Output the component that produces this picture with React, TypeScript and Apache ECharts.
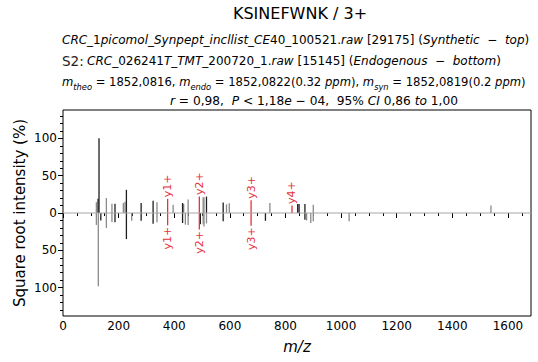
import React, { useEffect, useRef } from "react";
import * as echarts from "echarts";

const FONT = "DejaVu Sans";

// ---- axis ticks ----
const xMax = 1683;
const yMin = -138;
const yMax = 138;
const xTicks = [0, 200, 400, 600, 800, 1000, 1200, 1400, 1600];
const xMinorTicks = [0, 50, 100, 150, 200, 250, 300, 350, 400, 450, 500, 550, 600, 650, 700, 750, 800, 850, 900, 950, 1000, 1050, 1100, 1150, 1200, 1250, 1300, 1350, 1400, 1450, 1500, 1550, 1600, 1650];
const yTicks = [-100, -50, 0, 50, 100];
const yMinorTicks = [-130, -120, -110, -100, -90, -80, -70, -60, -50, -40, -30, -20, -10, 0, 10, 20, 30, 40, 50, 60, 70, 80, 90, 100, 110, 120, 130];

// ---- synthetic (top) peaks ----
const synDarkMz = [126, 129.5, 187, 228, 281, 324, 430, 516, 576, 844, 849, 870];
const synDarkInt = [19, 100, 12.5, 31, 13.4, 16.4, 13.4, 22, 14, 12, 12, 12];
const synLightMz = [120, 156, 176, 217, 223, 338, 396, 434, 450, 504, 507, 588, 598, 744, 900, 1539];
const synLightInt = [14.5, 20, 12.5, 13.4, 15, 14.5, 11, 12, 18, 21, 21, 11.6, 13, 13.4, 11, 10];

// ---- endogenous (bottom) peaks ----
const endoDarkMz = [136, 187, 228, 281, 324, 430, 494, 576, 728, 870];
const endoDarkInt = [-10, -12.5, -35, -10.5, -14.5, -13.4, -15, -11, -10.5, -9];
const endoLightMz = [120, 127, 156, 176, 247, 338, 440, 450, 504, 507, 516, 876, 891, 900, 1029];
const endoLightInt = [-16, -98, -20, -12, -10.5, -12.5, -15.6, -16, -15, -18, -14, -10, -13.4, -11, -11];

// ---- annotated fragment ions ----
const ionNames = ["y1+", "y2+", "y3+", "y4+"];
const ionMz = [376.3, 490.3, 676.4, 823.5];
const ionSynInt = [19, 22, 17, 10];
const ionEndoInt = [-16.5, -22, -17, 0];

// ---- texts ----
const titleText = "KSINEFWNK / 3+";
const line1 = "{i|CRC_}{n|1}{i|picomol_Synpept_incllist_CE}{n|40_100521.}{i|raw}{n| [29175] (}{i|Synthetic  −  top}{n|)}";
const line2 = "{s|S2:} {i|CRC_}{n|026241}{i|T_TMT_}{n|200720_1.}{i|raw}{n| [15145] (}{i|Endogenous  −  bottom}{n|)}";
const line3 = "{i|m}{sub|theo}{n| = 1852,0816, }{i|m}{sub|endo}{n| = 1852,0822(0.32 }{i|ppm}{n|), }{i|m}{sub|syn}{n| = 1852,0819(0.2 }{i|ppm}{n|)}";
const line4 = "{i|r}{n| = 0,98,  }{i|P}{n| < 1,18}{i|e}{n| − 04,  95% }{i|CI}{n| 0,86 }{i|to}{n| 1,00}";

const DARK = "#1e1e1e";
const LIGHT = "#8a8a8a";
const RED = "#e5323b";

function makeRich(size: number) {
  return {
    i: { fontFamily: FONT, fontSize: size, fontStyle: "italic", fill: "#000", lineHeight: 17 },
    n: { fontFamily: FONT, fontSize: size, fill: "#000", lineHeight: 17 },
    s: { fontFamily: FONT, fontSize: 13.5, fill: "#222", lineHeight: 17 },
    sub: { fontFamily: FONT, fontSize: 8.3, fontStyle: "italic", fill: "#000", lineHeight: 8, verticalAlign: "bottom" },
  };
}
const rich = makeRich(12);
const rich3 = makeRich(11.6);
const rich4 = makeRich(12.2);

function peakSeries(mz: number[], ints: number[], color: string) {
  return {
    type: "custom",
    xAxisIndex: 0,
    yAxisIndex: 0,
    silent: true,
    data: mz.map((m, i) => [m, ints[i]]),
    encode: { x: 0, y: 1 },
    renderItem: (params: any, api: any) => {
      const x = api.value(0);
      const y = api.value(1);
      const p0 = api.coord([x, 0]);
      const p1 = api.coord([x, y]);
      return {
        type: "line",
        shape: { x1: p0[0], y1: p0[1], x2: p1[0], y2: p1[1] },
        style: { stroke: color, lineWidth: 1.3 },
      };
    },
  };
}

export default function App() {
  const ref = useRef<HTMLDivElement>(null);
  useEffect(() => {
    if (!ref.current) return;
    const chart = echarts.init(ref.current, undefined, { renderer: "svg" });
    const option: any = {
      animation: false,
      grid: {
        left: 63,
        top: 110,
        right: 7,
        bottom: 46,
        show: true,
        borderColor: "#000",
        borderWidth: 1,
        backgroundColor: "transparent",
      },
      xAxis: [
        {
          type: "value",
          gridIndex: 0,
          min: 0,
          max: xMax,
          position: "bottom",
          axisLine: { show: false },
          splitLine: { show: false },
          axisTick: { show: true, customValues: xTicks, length: 5, lineStyle: { color: "#000" } },
          axisLabel: {
            customValues: xTicks,
            fontSize: 12,
            fontFamily: FONT,
            color: "#000",
            margin: 4,
            formatter: (v: number) => String(v),
          },
        },
        {
          type: "value",
          gridIndex: 0,
          min: 0,
          max: xMax,
          position: "bottom",
          offset: 0,
          axisLine: { show: false },
          splitLine: { show: false },
          axisTick: { show: true, customValues: xMinorTicks, length: 3, lineStyle: { color: "#000" } },
          axisLabel: { show: false },
        },
      ],
      yAxis: [
        {
          type: "value",
          gridIndex: 0,
          min: yMin,
          max: yMax,
          position: "left",
          axisLine: { show: false },
          splitLine: { show: false },
          axisTick: { show: true, customValues: yTicks, length: 5, lineStyle: { color: "#000" } },
          axisLabel: {
            customValues: yTicks,
            fontSize: 12,
            fontFamily: FONT,
            color: "#000",
            margin: 6,
            formatter: (v: number) => String(Math.abs(v)),
          },
        },
        {
          type: "value",
          gridIndex: 0,
          min: yMin,
          max: yMax,
          position: "left",
          offset: 0,
          axisLine: { show: false },
          splitLine: { show: false },
          axisTick: { show: true, customValues: yMinorTicks, length: 3, lineStyle: { color: "#000" } },
          axisLabel: { show: false },
        },
      ],
      series: [
        {
          type: "line",
          xAxisIndex: 0,
          yAxisIndex: 0,
          data: [[0, 0], [xMax, 0]],
          symbol: "none",
          silent: true,
          lineStyle: { color: "#a6a6a6", width: 1 },
        },
        peakSeries(synLightMz, synLightInt, LIGHT),
        peakSeries(endoLightMz, endoLightInt, LIGHT),
        peakSeries(synDarkMz, synDarkInt, DARK),
        peakSeries(endoDarkMz, endoDarkInt, DARK),
        {
          type: "custom",
          xAxisIndex: 0,
          yAxisIndex: 0,
          silent: true,
          data: ionMz.map((m, i) => [m, ionSynInt[i], ionEndoInt[i], i]),
          encode: { x: 0, y: 1 },
          renderItem: (params: any, api: any) => {
            const x = api.value(0);
            const top = api.value(1);
            const bot = api.value(2);
            const name = ionNames[api.value(3)];
            const p0 = api.coord([x, 0]);
            const children: any[] = [];
            if (top) {
              const p1 = api.coord([x, top]);
              children.push({
                type: "line",
                shape: { x1: p0[0], y1: p0[1], x2: p1[0], y2: p1[1] },
                style: { stroke: RED, lineWidth: 1.3 },
              });
              children.push({
                type: "text",
                x: p1[0],
                y: p1[1] - 1.5,
                rotation: Math.PI / 2,
                style: { text: name, fill: RED, fontSize: 11, fontFamily: FONT, align: "left", verticalAlign: "middle" },
              });
            }
            if (bot) {
              const p2 = api.coord([x, bot]);
              children.push({
                type: "line",
                shape: { x1: p0[0], y1: p0[1], x2: p2[0], y2: p2[1] },
                style: { stroke: RED, lineWidth: 1.3 },
              });
              children.push({
                type: "text",
                x: p2[0],
                y: p2[1] + 1.5,
                rotation: Math.PI / 2,
                style: { text: name, fill: RED, fontSize: 11, fontFamily: FONT, align: "right", verticalAlign: "middle" },
              });
            }
            return { type: "group", children };
          },
        },
      ],
      graphic: [
        {
          type: "text",
          x: 300,
          y: 13,
          style: { text: titleText, fontSize: 16, fontFamily: FONT, fill: "#000", align: "center", verticalAlign: "middle" },
        },
        { type: "text", x: 62, y: 40, style: { text: line1, rich, align: "left", verticalAlign: "middle" } },
        { type: "text", x: 62, y: 61, style: { text: line2, rich, align: "left", verticalAlign: "middle" } },
        { type: "text", x: 62, y: 82, style: { text: line3, rich: rich3, align: "left", verticalAlign: "middle" } },
        { type: "text", x: 170, y: 101, style: { text: line4, rich: rich4, align: "left", verticalAlign: "middle" } },
        {
          type: "text",
          x: 20,
          y: 213,
          rotation: Math.PI / 2,
          style: { text: "Square root intensity (%)", fontSize: 15, fontFamily: FONT, fill: "#000", align: "center", verticalAlign: "middle" },
        },
        {
          type: "text",
          x: 297,
          y: 347,
          style: { text: "m/z", fontSize: 15, fontStyle: "italic", fontFamily: FONT, fill: "#000", align: "center", verticalAlign: "middle" },
        },
      ],
    };
    chart.setOption(option);
    return () => chart.dispose();
  }, []);
  return (
    <div
      ref={ref}
      style={{ position: "fixed", left: 0, top: 0, width: 538, height: 362, background: "#fff" }}
    />
  );
}
